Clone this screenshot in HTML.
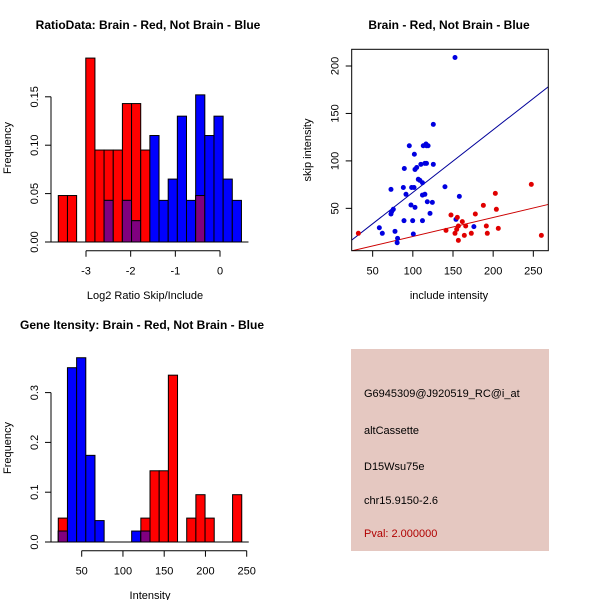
<!DOCTYPE html>
<html><head><meta charset="utf-8"><style>
html,body{margin:0;padding:0;background:#fff}
svg{display:block;font-family:"Liberation Sans",sans-serif}
</style></head><body>
<svg id="c" width="600" height="600" viewBox="0 0 600 600">
<rect width="600" height="600" fill="#fff"/>
<rect x="351" y="349" width="198" height="202" fill="#e5c8c1"/>
<g font-size="11" fill="#000">
<text x="364" y="397">G6945309@J920519_RC@i_at</text>
<text x="364" y="434">altCassette</text>
<text x="364" y="470">D15Wsu75e</text>
<text x="364" y="504">chr15.9150-2.6</text>
<text x="364" y="537" fill="#b00000">Pval: 2.000000</text>
</g>
</svg>
<script>
// Histogram 1 (ratio)
const ratioBinStart = -3.62;
const ratioBinWidth = 0.205;
const ratioRed = [0.048,0.048,0,0.19,0.095,0.095,0.095,0.143,0.143,0.095,0,0,0,0,0,0.048,0,0,0,0];
const ratioBlue = [0,0,0,0,0,0.043,0,0.043,0.022,0,0.11,0.043,0.065,0.13,0.043,0.152,0.11,0.13,0.065,0.043];
const ratioXTicks = [-3,-2,-1,0];
const ratioYTicks = [0,0.05,0.10,0.15];
const ratioYLabels = ["0.00","0.05","0.10","0.15"];
// Histogram 2 (intensity)
const intBinStart = 21.6;
const intBinWidth = 11.12;
const intRed = [0.048,0,0,0,0,0,0,0,0,0.048,0.143,0.143,0.335,0,0.048,0.095,0.048,0,0,0.095];
const intBlue = [0.022,0.35,0.37,0.174,0.043,0,0,0,0.022,0.022,0,0,0,0,0,0,0,0,0,0];
const intXTicks = [50,100,150,200,250];
const intYTicks = [0,0.1,0.2,0.3];
const intYLabels = ["0.0","0.1","0.2","0.3"];
// Scatter
const blueX = [152.5,125.5,95.6,113,117,119,116.4,101.9,89.4,102.7,104.8,110,115,117,125.5,106.8,108.8,112,140,72.8,88.2,98.5,101.5,91.5,112,115,157.9,118,124.3,97.7,102.7,75.7,73.6,72.8,121.4,89,99.8,112,153.7,176,58.3,62,77.8,100.6,81,80.5];
const blueY = [209,138.5,116,116,116,116,117.8,107,92,91,93,96.4,97.4,97.4,96.4,80.6,79.5,77,72.8,70,72,72,72,64.8,64,64.8,62.6,57,56.3,53.5,51,49,46.5,44,44.7,37,37,37,38.4,30.7,29.6,23.7,25.8,23,18.4,13.8];
const redX = [32.2,141.3,147.5,155.4,152.5,154.6,156.7,161.6,165.8,156.7,164.1,172.8,177.8,187.8,191.5,192.7,202.7,204,206.4,247.5,260];
const redY = [23.7,26.8,43,40.5,23.7,27.9,31.4,36,31.4,16.3,21.5,23.7,44,53.2,31.4,23.7,65.8,49,28.9,75.3,21.5];
const blueFit = [0.8,0.66];
const redFit = [0.4,0.2];
const scXTicks = [50,100,150,200,250];
const scYTicks = [50,100,150,200];

const NS="http://www.w3.org/2000/svg";
const svg=document.getElementById('c');
function mk(tag,attrs,parent){const e=document.createElementNS(NS,tag);for(const k in attrs)e.setAttribute(k,attrs[k]);(parent||svg).appendChild(e);return e;}
function txt(x,y,s,attrs){const e=mk('text',Object.assign({x:x,y:y,'text-anchor':'middle','font-size':11},attrs||{}));e.textContent=s;return e;}

function hist(o){
  const g=mk('g',{});
  
  
  const X=v=>o.x0+(v-o.xv0)*o.xs, Y=v=>o.y0-v*o.ys;
  for(let i=0;i<o.red.length;i++){
    const a=X(o.start+i*o.w), b=X(o.start+(i+1)*o.w);
    const r=o.red[i], bl=o.blue[i], m=Math.min(r,bl);
    if(r>0){const e=mk('rect',{x:a,y:Y(r),width:b-a,height:Y(0)-Y(r),fill:'#ff0000',stroke:'#000','stroke-width':1},g);
      }
    if(bl>0){const e=mk('rect',{x:a,y:Y(bl),width:b-a,height:Y(0)-Y(bl),fill:'#0000ff',stroke:'#000','stroke-width':1},g);
      }
    if(m>0){const e=mk('rect',{x:a,y:Y(m),width:b-a,height:Y(0)-Y(m),fill:'#80007f',stroke:'#000','stroke-width':1},g);
      }
  }
  mk('line',{x1:X(o.start)-10,x2:X(o.start+o.red.length*o.w)+7,y1:Y(0),y2:Y(0),stroke:'#000'},g);
  // y axis
  const ya=mk('g',{},g);
  const ax=o.yaxX;
  mk('line',{x1:ax,x2:ax,y1:Y(o.yt[0]),y2:Y(o.yt[o.yt.length-1]),stroke:'#000'},ya);
  o.yt.forEach((v,i)=>{mk('line',{x1:ax-6,x2:ax,y1:Y(v),y2:Y(v),stroke:'#000'},ya);
    const t=txt(0,0,o.yl[i],{transform:`translate(${ax-13},${Y(v)}) rotate(-90)`});
    });
  const xa=mk('g',{},g);
  const ay=o.xaxY;
  mk('line',{x1:X(o.xt[0]),x2:X(o.xt[o.xt.length-1]),y1:ay,y2:ay,stroke:'#000'},xa);
  o.xt.forEach(v=>{mk('line',{x1:X(v),x2:X(v),y1:ay,y2:ay+6,stroke:'#000'},xa);
    const t=txt(X(v),ay+24,String(v));});
}
hist({name:'ratio-histogram',red:ratioRed,blue:ratioBlue,start:ratioBinStart,w:ratioBinWidth,x0:86,xv0:-3,xs:44.67,y0:242,ys:968,yt:ratioYTicks,yl:ratioYLabels,xt:ratioXTicks,yaxX:51,xaxY:250.7});
hist({name:'intensity-histogram',red:intRed,blue:intBlue,start:intBinStart,w:intBinWidth,x0:81.7,xv0:50,xs:0.825,y0:542,ys:498,yt:intYTicks,yl:intYLabels,xt:intXTicks,yaxX:51,xaxY:550.7});

// titles and labels
let t;
t=txt(148,29,'RatioData: Brain - Red, Not Brain - Blue',{'font-weight':'bold','font-size':12});
t=txt(145,299,'Log2 Ratio Skip/Include');
t=txt(0,0,'Frequency',{transform:'translate(11,148) rotate(-90)'});
t=txt(142,329,'Gene Itensity: Brain - Red, Not Brain - Blue',{'font-weight':'bold','font-size':12});
t=txt(150,599,'Intensity');
t=txt(0,0,'Frequency',{transform:'translate(11,448) rotate(-90)'});
t=txt(449,29,'Brain - Red, Not Brain - Blue',{'font-weight':'bold','font-size':12});
t=txt(449,299,'include intensity');
t=txt(0,0,'skip intensity',{transform:'translate(311,150) rotate(-90)'});

// scatter
(function(){
  const g=mk('g',{});
  
  
  const L=351.7,R=548.3,T=49.3,B=250.7;
  const X=v=>332.5+v*0.8033, Y=v=>255.8-v*0.949;
  const xmin=(L-332.5)/0.8033, xmax=(R-332.5)/0.8033;
  const clip=mk('clipPath',{id:'sc'},g);mk('rect',{x:L,y:T,width:R-L,height:B-T},clip);
  const pg=mk('g',{'clip-path':'url(#sc)'},g);
  let l=mk('line',{x1:X(xmin),x2:X(xmax),y1:Y(blueFit[0]+blueFit[1]*xmin),y2:Y(blueFit[0]+blueFit[1]*xmax),stroke:'#00009a','stroke-width':1},pg);
  
  l=mk('line',{x1:X(xmin),x2:X(xmax),y1:Y(redFit[0]+redFit[1]*xmin),y2:Y(redFit[0]+redFit[1]*xmax),stroke:'#cc0000','stroke-width':1},pg);
  
  blueX.forEach((v,i)=>{const c=mk('circle',{cx:X(v),cy:Y(blueY[i]),r:2.5,fill:'#0000e0'},pg);
    });
  redX.forEach((v,i)=>{const c=mk('circle',{cx:X(v),cy:Y(redY[i]),r:2.5,fill:'#e00000'},pg);
    });
  const f=mk('rect',{x:L,y:T,width:R-L,height:B-T,fill:'none',stroke:'#000'},g);
  
  scXTicks.forEach(v=>{mk('line',{x1:X(v),x2:X(v),y1:B,y2:B+6,stroke:'#000'},g);
    const t=txt(X(v),B+24,String(v));});
  scYTicks.forEach(v=>{mk('line',{x1:L-6,x2:L,y1:Y(v),y2:Y(v),stroke:'#000'},g);
    const t=txt(0,0,String(v),{transform:`translate(${L-13},${Y(v)}) rotate(-90)`});});
})();
</script>
</body></html>
